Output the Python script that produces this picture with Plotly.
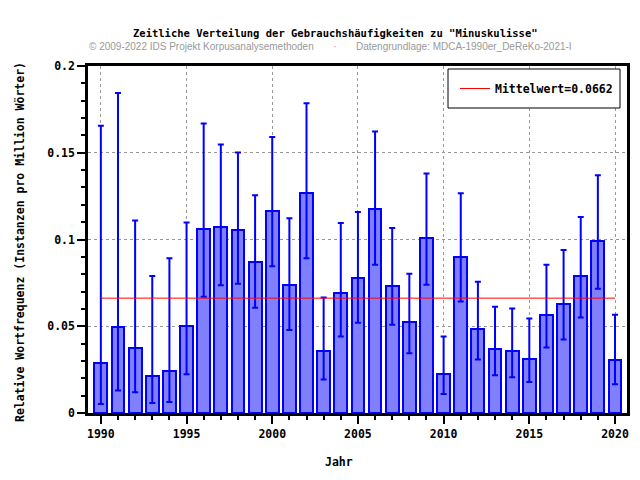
import plotly.graph_objects as go

years = list(range(1990, 2021))
values = [0.0287, 0.0493, 0.0372, 0.0212, 0.0241, 0.0499, 0.1060, 0.1072, 0.1054, 0.0871,
          0.1163, 0.0739, 0.1266, 0.0355, 0.0693, 0.0779, 0.1175, 0.0734, 0.0527, 0.1009,
          0.0224, 0.0900, 0.0487, 0.0367, 0.0355, 0.0309, 0.0567, 0.0630, 0.0791, 0.0991,
          0.0304]
err_high = [0.1656, 0.1845, 0.1110, 0.0789, 0.0892, 0.1098, 0.1668, 0.1547, 0.1501, 0.1255,
            0.1591, 0.1123, 0.1786, 0.0665, 0.1095, 0.1158, 0.1622, 0.1066, 0.0802, 0.1381,
            0.0441, 0.1266, 0.0756, 0.0613, 0.0602, 0.0544, 0.0854, 0.0940, 0.1129, 0.1370,
            0.0567]
err_low = [0.0052, 0.0130, 0.0120, 0.0057, 0.0063, 0.0224, 0.0670, 0.0737, 0.0745, 0.0606,
           0.0846, 0.0479, 0.0892, 0.0193, 0.0441, 0.0520, 0.0854, 0.0508, 0.0344, 0.0739,
           0.0109, 0.0642, 0.0309, 0.0218, 0.0206, 0.0178, 0.0378, 0.0424, 0.0550, 0.0716,
           0.0166]
mean_value = 0.0662
mean_label = "Mittelwert=0.0662"
title_text = 'Zeitliche Verteilung der Gebrauchshäufigkeiten zu "Minuskulisse"'
subtitle_text = "© 2009-2022 IDS Projekt Korpusanalysemethoden       ·       Datengrundlage: MDCA-1990er_DeReKo-2021-I"
x_title = "Jahr"
y_title = "Relative Wortfrequenz (Instanzen pro Million Wörter)"

MONO = "DejaVu Sans Mono"

# page body has an 8px margin; size the figure so plot area lands at x 88..627, y 66..413
PAGE_OFF = 8
PL, PR, PT, PB = 88, 627, 66, 413
W, H = 640 - 2 * PAGE_OFF, 480 - 2 * PAGE_OFF

def px_x(p):
    return (p - PL) / (PR - PL)

def px_y(p):
    return (PB - p) / (PB - PT)

fig = go.Figure()
fig.add_trace(go.Bar(
    x=years, y=values, width=0.75,
    marker=dict(color="#8080FF", line=dict(color="#0000FF", width=2)),
    error_y=dict(type="data", symmetric=False,
                 array=[h - v for h, v in zip(err_high, values)],
                 arrayminus=[v - l for v, l in zip(values, err_low)],
                 color="#0000FF", thickness=2, width=3),
    showlegend=False,
))
fig.add_trace(go.Scatter(
    x=[years[0], years[-1]], y=[mean_value, mean_value], mode="lines",
    line=dict(color="#FF0000", width=1), name=mean_label, showlegend=True,
))

axis_common = dict(
    showline=True, linecolor="black", linewidth=2.5, mirror=True,
    ticks="outside", ticklen=8, tickwidth=2, tickcolor="black",
    showgrid=True, gridcolor="#999999", griddash="dot", gridwidth=1,
    zeroline=False, automargin=False,
    tickfont=dict(family=MONO, size=11.5, color="black", weight="bold"),
)

fig.update_layout(
    width=W, height=H,
    margin=dict(l=PL - PAGE_OFF, r=W + PAGE_OFF - PR, t=PT - PAGE_OFF, b=H + PAGE_OFF - PB,
                autoexpand=False),
    paper_bgcolor="white", plot_bgcolor="white",
    bargap=0,
    xaxis=dict(range=[1989.25, 2020.7], tickmode="linear", tick0=1990, dtick=5,
               minor=dict(dtick=1, ticklen=4, tickwidth=2, tickcolor="black", ticks="outside", showgrid=False),
               **axis_common),
    yaxis=dict(range=[0, 0.2], tickmode="array", tickvals=[0, 0.05, 0.1, 0.15, 0.2],
               ticktext=["0", "0.05", "0.1", "0.15", "0.2"],
               minor=dict(dtick=0.01, ticklen=4, tickwidth=2, tickcolor="black", ticks="outside", showgrid=False),
               **axis_common),
    legend=dict(x=px_x(618), y=px_y(88.5), xanchor="right", yanchor="middle",
                borderwidth=0, bgcolor="rgba(0,0,0,0)",
                font=dict(family=MONO, size=11.5, color="black", weight="bold")),
    shapes=[
        dict(type="rect", xref="paper", yref="paper",
             x0=px_x(448), x1=px_x(620), y0=px_y(108), y1=px_y(69),
             line=dict(color="black", width=1), fillcolor="white", layer="above"),
    ],
    annotations=[
        dict(text=title_text, xref="paper", yref="paper", x=px_x(335), y=px_y(33),
             xanchor="center", yanchor="middle", showarrow=False,
             font=dict(family=MONO, size=10.5, color="black", weight="bold")),
        dict(text=subtitle_text, xref="paper", yref="paper", x=px_x(330), y=px_y(46),
             xanchor="center", yanchor="middle", showarrow=False,
             font=dict(family="Liberation Sans", size=10, color="#999999")),
        dict(text=x_title, xref="paper", yref="paper", x=px_x(339), y=px_y(462),
             xanchor="center", yanchor="middle", showarrow=False,
             font=dict(family=MONO, size=11.5, color="black", weight="bold")),
        dict(text=y_title, xref="paper", yref="paper", x=px_x(20), y=px_y(242),
             xanchor="center", yanchor="middle", showarrow=False, textangle=-90,
             font=dict(family=MONO, size=11.5, color="black", weight="bold")),
    ],
)

fig.write_html("out.html")
